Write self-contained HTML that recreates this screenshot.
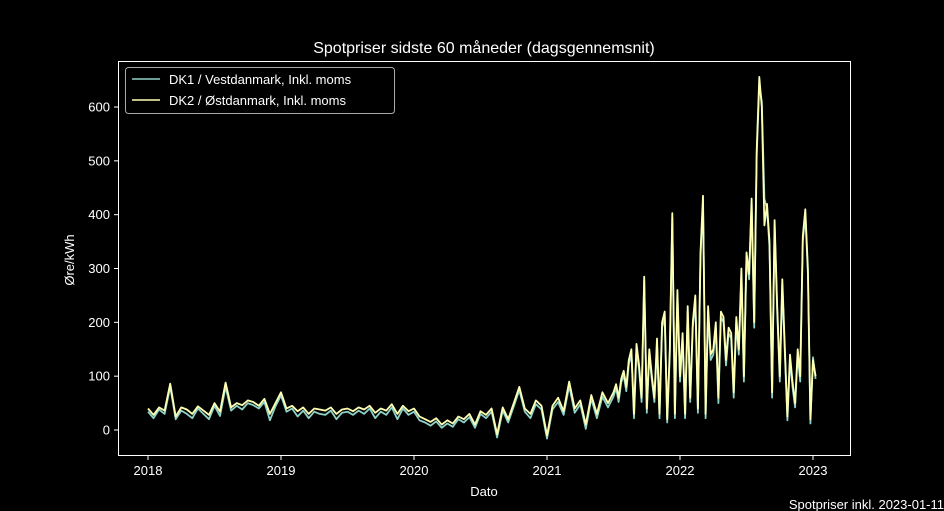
<!DOCTYPE html>
<html><head><meta charset="utf-8">
<style>
html,body{margin:0;padding:0;background:#000;}
svg{display:block;font-family:"Liberation Sans","DejaVu Sans",sans-serif;}
</style></head>
<body>
<svg id="chart" width="944" height="511" viewBox="0 0 944 511">
<rect x="0" y="0" width="944" height="511" fill="#000"/>
<text x="484" y="53" fill="#fff" font-size="16" text-anchor="middle">Spotpriser sidste 60 måneder (dagsgennemsnit)</text>
<g id="plot"></g>
<rect x="118.5" y="61.5" width="732" height="394" fill="none" stroke="#fff" stroke-width="1"/>
<text transform="translate(74,260) rotate(-90)" fill="#fff" font-size="13" text-anchor="middle">Øre/kWh</text>
<text x="484" y="496" fill="#fff" font-size="13" text-anchor="middle">Dato</text>
<text x="944" y="509" fill="#fff" font-size="13" text-anchor="end">Spotpriser inkl. 2023-01-11</text>
<g>
<rect x="125.5" y="67.5" width="269" height="46" rx="3" fill="#000" stroke="#aaa" stroke-width="1"/>
<line x1="132" y1="79" x2="160" y2="79" stroke="#8dd3c7" stroke-width="1.5"/>
<text x="169" y="84" fill="#fff" font-size="13">DK1 / Vestdanmark, Inkl. moms</text>
<line x1="132" y1="100" x2="160" y2="100" stroke="#ffffb3" stroke-width="1.5"/>
<text x="169" y="105" fill="#fff" font-size="13">DK2 / Østdanmark, Inkl. moms</text>
</g>
</svg>
<script>
// early segment: half-monthly from 2018.0 ; late segment: weekly from 2021.5
const earlyStart = 2018;
const earlyStepsPerYear = 24;
const lateStart = 2021.5;
const lateStepsPerYear = 52;
const dk1Early = [34,22,38,30,80,20,36,30,22,40,30,20,45,26,80,36,45,38,50,46,40,52,18,44,
 64,34,40,25,36,22,34,30,28,36,20,32,34,28,36,30,40,22,34,28,42,20,40,28,
 34,18,14,8,16,4,12,6,20,14,24,4,30,22,34,-14,36,14,44,74,34,22,48,38,
 -16,38,52,28,82,32,48,2,58,22,62,42];
const dk2Early = [40,28,42,36,86,25,42,38,30,44,36,28,50,34,88,42,50,46,55,52,45,58,30,50,
 70,40,45,35,42,30,40,38,36,42,30,38,40,35,42,38,45,32,40,36,48,30,45,35,
 40,25,20,15,22,10,18,12,25,20,30,10,35,28,40,-8,42,20,50,80,40,30,55,45,
 -10,45,60,35,90,40,55,10,65,30,70,50];
const dk1Late = [62,78,52,88,102,72,122,142,22,150,112,52,278,
 32,140,92,52,160,22,190,210,14,140,395,22,250,
 90,170,22,220,52,190,240,32,320,425,22,220,130,
 140,190,50,210,200,120,180,170,60,200,140,290,90,
 320,280,420,190,510,640,610,430,410,340,60,380,220,
 90,270,140,18,130,80,42,140,90,350,400,290,12,135,95];
const dk2Late = [70,85,60,95,110,80,130,150,30,160,120,60,285,
 40,150,100,60,170,30,200,220,20,150,403,30,260,
 100,180,30,230,60,200,250,40,330,435,30,230,140,
 150,200,60,220,210,130,190,180,70,210,150,300,100,
 330,290,430,200,520,656,600,380,420,350,70,390,230,
 100,280,150,25,140,90,50,150,100,360,410,300,20,130,100];
const yTicks = [0,100,200,300,400,500,600];
const xTicks = [2018,2019,2020,2021,2022,2023];

const NS = "http://www.w3.org/2000/svg";
const svg = document.getElementById('chart');
const plot = document.getElementById('plot');
function xScale(t){ return 148 + (t - 2018) * 133; }
function yScale(v){ return 430 - v * 0.5383; }

yTicks.forEach(v=>{
  const y = yScale(v);
  const l = document.createElementNS(NS,'line');
  l.setAttribute('x1',114); l.setAttribute('x2',118); l.setAttribute('y1',y); l.setAttribute('y2',y);
  l.setAttribute('stroke','#fff');
  
  
  svg.appendChild(l);
  const t = document.createElementNS(NS,'text');
  t.setAttribute('x',110); t.setAttribute('y',y+4.5); t.setAttribute('fill','#fff');
  t.setAttribute('font-size','13'); t.setAttribute('text-anchor','end');
  t.textContent = v;
  
  
  svg.appendChild(t);
});
xTicks.forEach(v=>{
  const x = xScale(v);
  const l = document.createElementNS(NS,'line');
  l.setAttribute('x1',x); l.setAttribute('x2',x); l.setAttribute('y1',456); l.setAttribute('y2',460);
  l.setAttribute('stroke','#fff');
  
  
  svg.appendChild(l);
  const t = document.createElementNS(NS,'text');
  t.setAttribute('x',x); t.setAttribute('y',475); t.setAttribute('fill','#fff');
  t.setAttribute('font-size','13'); t.setAttribute('text-anchor','middle');
  t.textContent = v;
  
  
  svg.appendChild(t);
});
function drawSeries(early, late, color, name){
  const pts = [];
  early.forEach((v,i)=>pts.push(xScale(earlyStart + i/earlyStepsPerYear).toFixed(1)+','+yScale(v).toFixed(1)));
  late.forEach((v,i)=>pts.push(xScale(lateStart + i/lateStepsPerYear).toFixed(1)+','+yScale(v).toFixed(1)));
  const p = document.createElementNS(NS,'polyline');
  p.setAttribute('points',pts.join(' ')); p.setAttribute('fill','none');
  p.setAttribute('stroke',color); p.setAttribute('stroke-width','1.8');
  p.setAttribute('stroke-linejoin','round');
  
  
  plot.appendChild(p);
}
drawSeries(dk1Early, dk1Late, '#8dd3c7', 'dk1-line');
drawSeries(dk2Early, dk2Late, '#ffffb3', 'dk2-line');
</script>
</body></html>
